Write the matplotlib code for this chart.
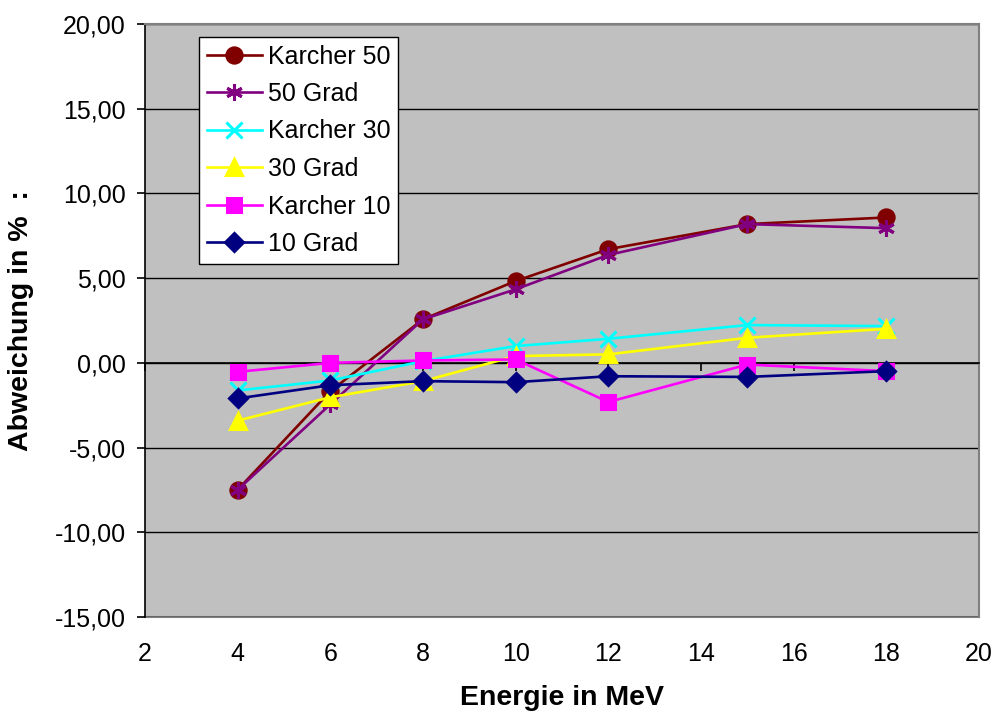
import matplotlib
matplotlib.use("Agg")
import matplotlib.pyplot as plt

plt.rcParams['font.family'] = ['Liberation Sans', 'DejaVu Sans']

energy = [4, 6, 8, 10, 12, 15, 18]
karcher50 = [-7.49, -1.67, 2.57, 4.83, 6.71, 8.19, 8.58]
grad50 = [-7.49, -2.45, 2.57, 4.34, 6.37, 8.19, 7.95]
karcher30 = [-1.63, -1.04, 0.10, 0.99, 1.42, 2.23, 2.17]
grad30 = [-3.41, -2.03, -1.08, 0.40, 0.50, 1.48, 2.01]
karcher10 = [-0.53, 0.00, 0.14, 0.20, -2.31, -0.10, -0.49]
grad10 = [-2.10, -1.32, -1.08, -1.14, -0.79, -0.83, -0.49]

series_names = ["Karcher 50", "50 Grad", "Karcher 30", "30 Grad", "Karcher 10", "10 Grad"]
series_values = [karcher50, grad50, karcher30, grad30, karcher10, grad10]

x_ticks = [2, 4, 6, 8, 10, 12, 14, 16, 18, 20]
y_ticks = [-15, -10, -5, 0, 5, 10, 15, 20]
y_tick_labels = ["-15,00", "-10,00", "-5,00", "0,00", "5,00", "10,00", "15,00", "20,00"]

colors = ["#800000", "#800080", "#00FFFF", "#FFFF00", "#FF00FF", "#000080"]
markers = ["o", (6, 2, 0), "x", "^", "s", "D"]
msizes = [11, 12, 11, 11, 10, 9]

fig = plt.figure(figsize=(9.96, 7.13), dpi=100)
L, R, T, B = 145, 979, 24, 617
W, H = 996, 713
ax = fig.add_axes([L / W, 1 - B / H, (R - L) / W, (B - T) / H])
ax.set_facecolor("#C0C0C0")

for name, vals, c, m, ms in zip(series_names, series_values, colors, markers, msizes):
    ax.plot(energy, vals, color=c, lw=1.9, marker=m, markersize=ms,
            markerfacecolor=c, markeredgecolor=c, markeredgewidth=2.2,
            label=name, zorder=3, clip_on=False)

ax.set_xlim(2, 20)
ax.set_ylim(-15, 20)
ax.set_yticks(y_ticks)
ax.set_yticklabels(y_tick_labels)
ax.yaxis.grid(True, color="black", lw=1)
ax.set_axisbelow(True)

for s in ["top", "right"]:
    ax.spines[s].set_color("#808080")
    ax.spines[s].set_linewidth(1.5)
ax.spines["left"].set_color("black")
ax.spines["left"].set_linewidth(1.2)
ax.spines["bottom"].set_position(("data", 0))
ax.spines["bottom"].set_color("black")
ax.spines["bottom"].set_linewidth(1.2)
ax.spines["bottom"].set_zorder(2.5)

ax.set_xticks(x_ticks)
ax.tick_params(axis="x", direction="out", length=6, width=1.2, labelbottom=False)
ax.tick_params(axis="y", direction="out", length=6, width=1.2, pad=8, labelsize=18)

secax = ax.secondary_xaxis("bottom")
secax.set_xticks(x_ticks)
secax.set_xticklabels([str(t) for t in x_ticks])
secax.tick_params(length=0, pad=18, labelsize=18)
secax.spines["bottom"].set_color("#808080")
secax.spines["bottom"].set_linewidth(1.5)

ax.set_xlabel("Energie in MeV", fontsize=20.5, fontweight="bold")
ax.xaxis.set_label_coords(0.5, -0.114)
ax.xaxis.label.set_va("top")
ax.set_ylabel("Abweichung in %  :", fontsize=20.5, fontweight="bold")
ax.yaxis.set_label_coords(-0.133, 0.5)

leg = ax.legend(loc="upper left", bbox_to_anchor=(199 / W, 1 - 37 / H),
                bbox_transform=fig.transFigure, fontsize=18, frameon=True,
                fancybox=False, shadow=False, borderaxespad=0, borderpad=0.3,
                handlelength=2.2, handletextpad=0.25, labelspacing=0.54)
leg.get_frame().set_edgecolor("black")
leg.get_frame().set_linewidth(1.0)
leg.get_frame().set_facecolor("white")
leg.get_frame().set_alpha(1)

fig.savefig("out.png", dpi=100)
